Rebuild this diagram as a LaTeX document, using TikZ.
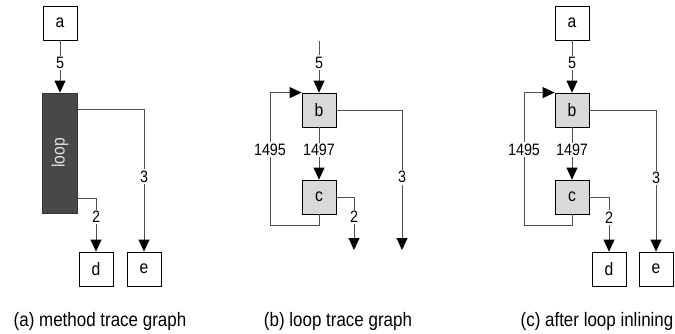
\documentclass[tikz,border=0pt]{standalone}
\usepackage{fontspec}
\setmainfont{Liberation Sans}[FakeStretch=0.87]
\usetikzlibrary{arrows.meta}
\definecolor{boxgray}{HTML}{D9D9D9}
\definecolor{loopgray}{HTML}{484848}
\definecolor{linegray}{HTML}{505050}
\tikzset{
  box/.style={draw=black, line width=0.8pt, minimum width=34pt, minimum height=34pt, inner sep=0pt, font=\fontsize{18}{20}\selectfont, fill=white},
  graybox/.style={box, fill=boxgray},
  loopbox/.style={draw=black!80, line width=0.8pt, fill=loopgray, minimum width=35pt, minimum height=120pt, inner sep=0pt},
  conn/.style={draw=linegray, line width=0.8pt, -{Triangle[length=12pt,width=11pt,color=black]}},
  lbl/.style={fill=white, inner sep=1.5pt, font=\fontsize{16.5}{18}\selectfont},
  captext/.style={font=\fontsize{19.5}{22}\selectfont, inner sep=0pt}
}
\begin{document}
\begin{tikzpicture}[x=1pt,y=-1pt]
\useasboundingbox (0,0) rectangle (675,333);
% ---------- (a) ----------
\node[box] (aa) at (60,23) {a};
\node[loopbox] (loop) at (60,153) {};
\node[rotate=90, text=white!88!black, font=\fontsize{18}{20}\selectfont] (looptxt) at (loop.center) {loop};
\node[box] (ad) at (96,269) {d};
\node[box] (ae) at (144,269) {e};
\draw[conn] (aa) -- node[lbl, pos=0.43] {5} (loop);
\draw[conn] ([yshift=-17pt]loop.north east) -| node[lbl, pos=0.736] {3} (ae.north);
\draw[conn] ([yshift=15pt]loop.south east) -| node[lbl, pos=0.675] {2} (ad.north);
\node[captext] (capa) at (100,321) {(a) method trace graph};
% ---------- (b) ----------
\coordinate (bin) at (319,41);
\node[graybox] (bb) at (319,110) {b};
\node[graybox] (bc) at (319,197) {c};
\coordinate (blp) at (270,225);
\coordinate (bx3) at (402,250);
\coordinate (bx2) at (354,250);
\draw[conn] (bin) -- node[lbl, pos=0.42] {5} (bb);
\draw[conn] (bb) -- node[lbl, pos=0.43] {1497} (bc);
\draw[conn] (bc.south) |- (blp) |- node[lbl, pos=0.284] {1495} (bb.north west);
\draw[conn] (bb.east) -| node[lbl, pos=0.74] {3} (bx3);
\draw[conn] (bc.east) -| node[lbl, pos=0.69] {2} (bx2);
\node[captext] (capb) at (338,321) {(b) loop trace graph};
% ---------- (c) ----------
\node[box] (ca) at (572,23) {a};
\node[graybox] (cb) at (572,110) {b};
\node[graybox] (cc) at (572,197) {c};
\node[box] (cd) at (609,269) {d};
\node[box] (ce) at (656,269) {e};
\coordinate (clp) at (524,225);
\draw[conn] (ca) -- node[lbl, pos=0.43] {5} (cb);
\draw[conn] (cb) -- node[lbl, pos=0.43] {1497} (cc);
\draw[conn] (cc.south) |- (clp) |- node[lbl, pos=0.284] {1495} (cb.north west);
\draw[conn] (cb.east) -| node[lbl, pos=0.74] {3} (ce.north);
\draw[conn] (cc.east) -| node[lbl, pos=0.69] {2} (cd.north);
\node[captext] (capc) at (597,321) {(c) after loop inlining};
\end{tikzpicture}
\end{document}
